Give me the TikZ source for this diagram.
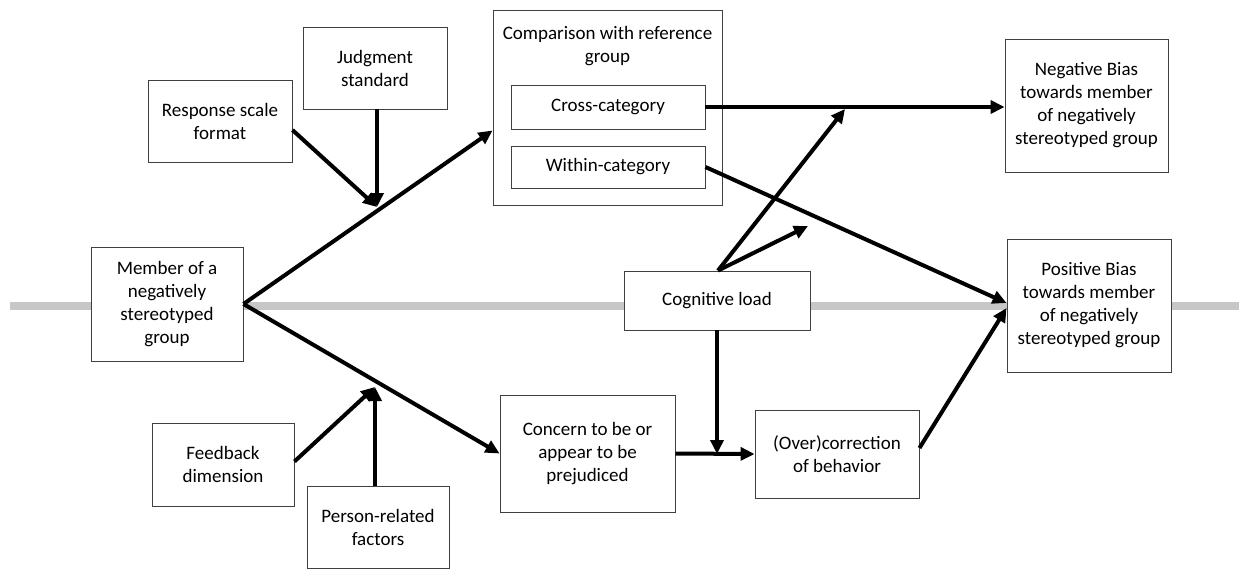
\documentclass[tikz,border=0pt]{standalone}
\usepackage{fontspec}
\setmainfont{Carlito}
\usetikzlibrary{arrows.meta,calc}
\begin{document}
\begin{tikzpicture}[x=1pt,y=-1pt,
  box/.style={draw=black!75,line width=0.9pt,fill=white,align=center,inner sep=0pt,
    font=\fontsize{19}{23}\selectfont},
  txt/.style={align=center,inner sep=0pt,font=\fontsize{19}{23}\selectfont},
  arr/.style={line width=4pt,-{Triangle[length=14pt,width=13pt]}},
  axisline/.style={line width=8pt,draw=black!22}]
\useasboundingbox (0,0) rectangle (1239,568);
\coordinate (gl) at (10,306);
\coordinate (gr) at (1239,306);
\draw[axisline] (gl) -- (gr);

\node[box,minimum width=144,minimum height=82] (resp) at (220,121) {Response scale\\format};
\node[box,minimum width=144,minimum height=82] (judg) at (375,68) {Judgment\\standard};
\node[box,minimum width=229,minimum height=195] (comp) at (607.5,107.5) {};
\node[txt] (comptxt) at (607.5,46) {Comparison with reference\\group};
\node[box,minimum width=194,minimum height=44] (cross) at (608,107) {Cross-category};
\node[box,minimum width=194,minimum height=42] (within) at (608,167) {Within-category};
\node[box,minimum width=163,minimum height=133] (neg) at (1086.5,105.5) {Negative Bias\\towards member\\of negatively\\stereotyped group};
\node[box,minimum width=164,minimum height=133] (pos) at (1089,305.5) {Positive Bias\\towards member\\of negatively\\stereotyped group};
\node[box,minimum width=152,minimum height=114] (mem) at (167,304) {Member of a\\negatively\\stereotyped\\group};
\node[box,minimum width=186,minimum height=59] (cog) at (717,300.5) {Cognitive load};
\node[box,minimum width=175,minimum height=117] (conc) at (587.5,453.5) {Concern to be or\\appear to be\\prejudiced};
\node[box,minimum width=164,minimum height=88] (over) at (837,454) {(Over)correction\\of behavior};
\node[box,minimum width=142,minimum height=83] (feed) at (223,464.5) {Feedback\\dimension};
\node[box,minimum width=142,minimum height=82] (pers) at (378,527) {Person-related\\factors};

\coordinate (jA) at (377,207);
\coordinate (jB) at (375,387);
\coordinate (cA) at (845,109);
\coordinate (cB) at (808,226);

\draw[arr] (mem.east) -- ([yshift=-23pt]comp.west);
\draw[arr] (mem.east) -- (conc.west);
\draw[arr] ([yshift=-9pt]resp.east) -- (jA);
\draw[arr] (judg.south -| jA) -- (jA);
\draw[arr] ([yshift=3pt]feed.east) -- (jB);
\draw[arr] (pers.north -| jB) -- (jB);
\draw[arr] (cross.east) -- (neg.west |- cross.east);
\draw[arr] (within.east) -- ([yshift=2.5pt]pos.west);
\draw[arr] ([xshift=1pt]cog.north) -- (cA);
\draw[arr] ([xshift=1pt]cog.north) -- (cB);
\draw[arr] (cog.south) -- (cog.south |- over.west);
\draw[arr] (conc.east) -- (over.west);
\draw[arr] ([yshift=6pt]over.east) -- ([yshift=-2.5pt]pos.west);
\end{tikzpicture}
\end{document}
